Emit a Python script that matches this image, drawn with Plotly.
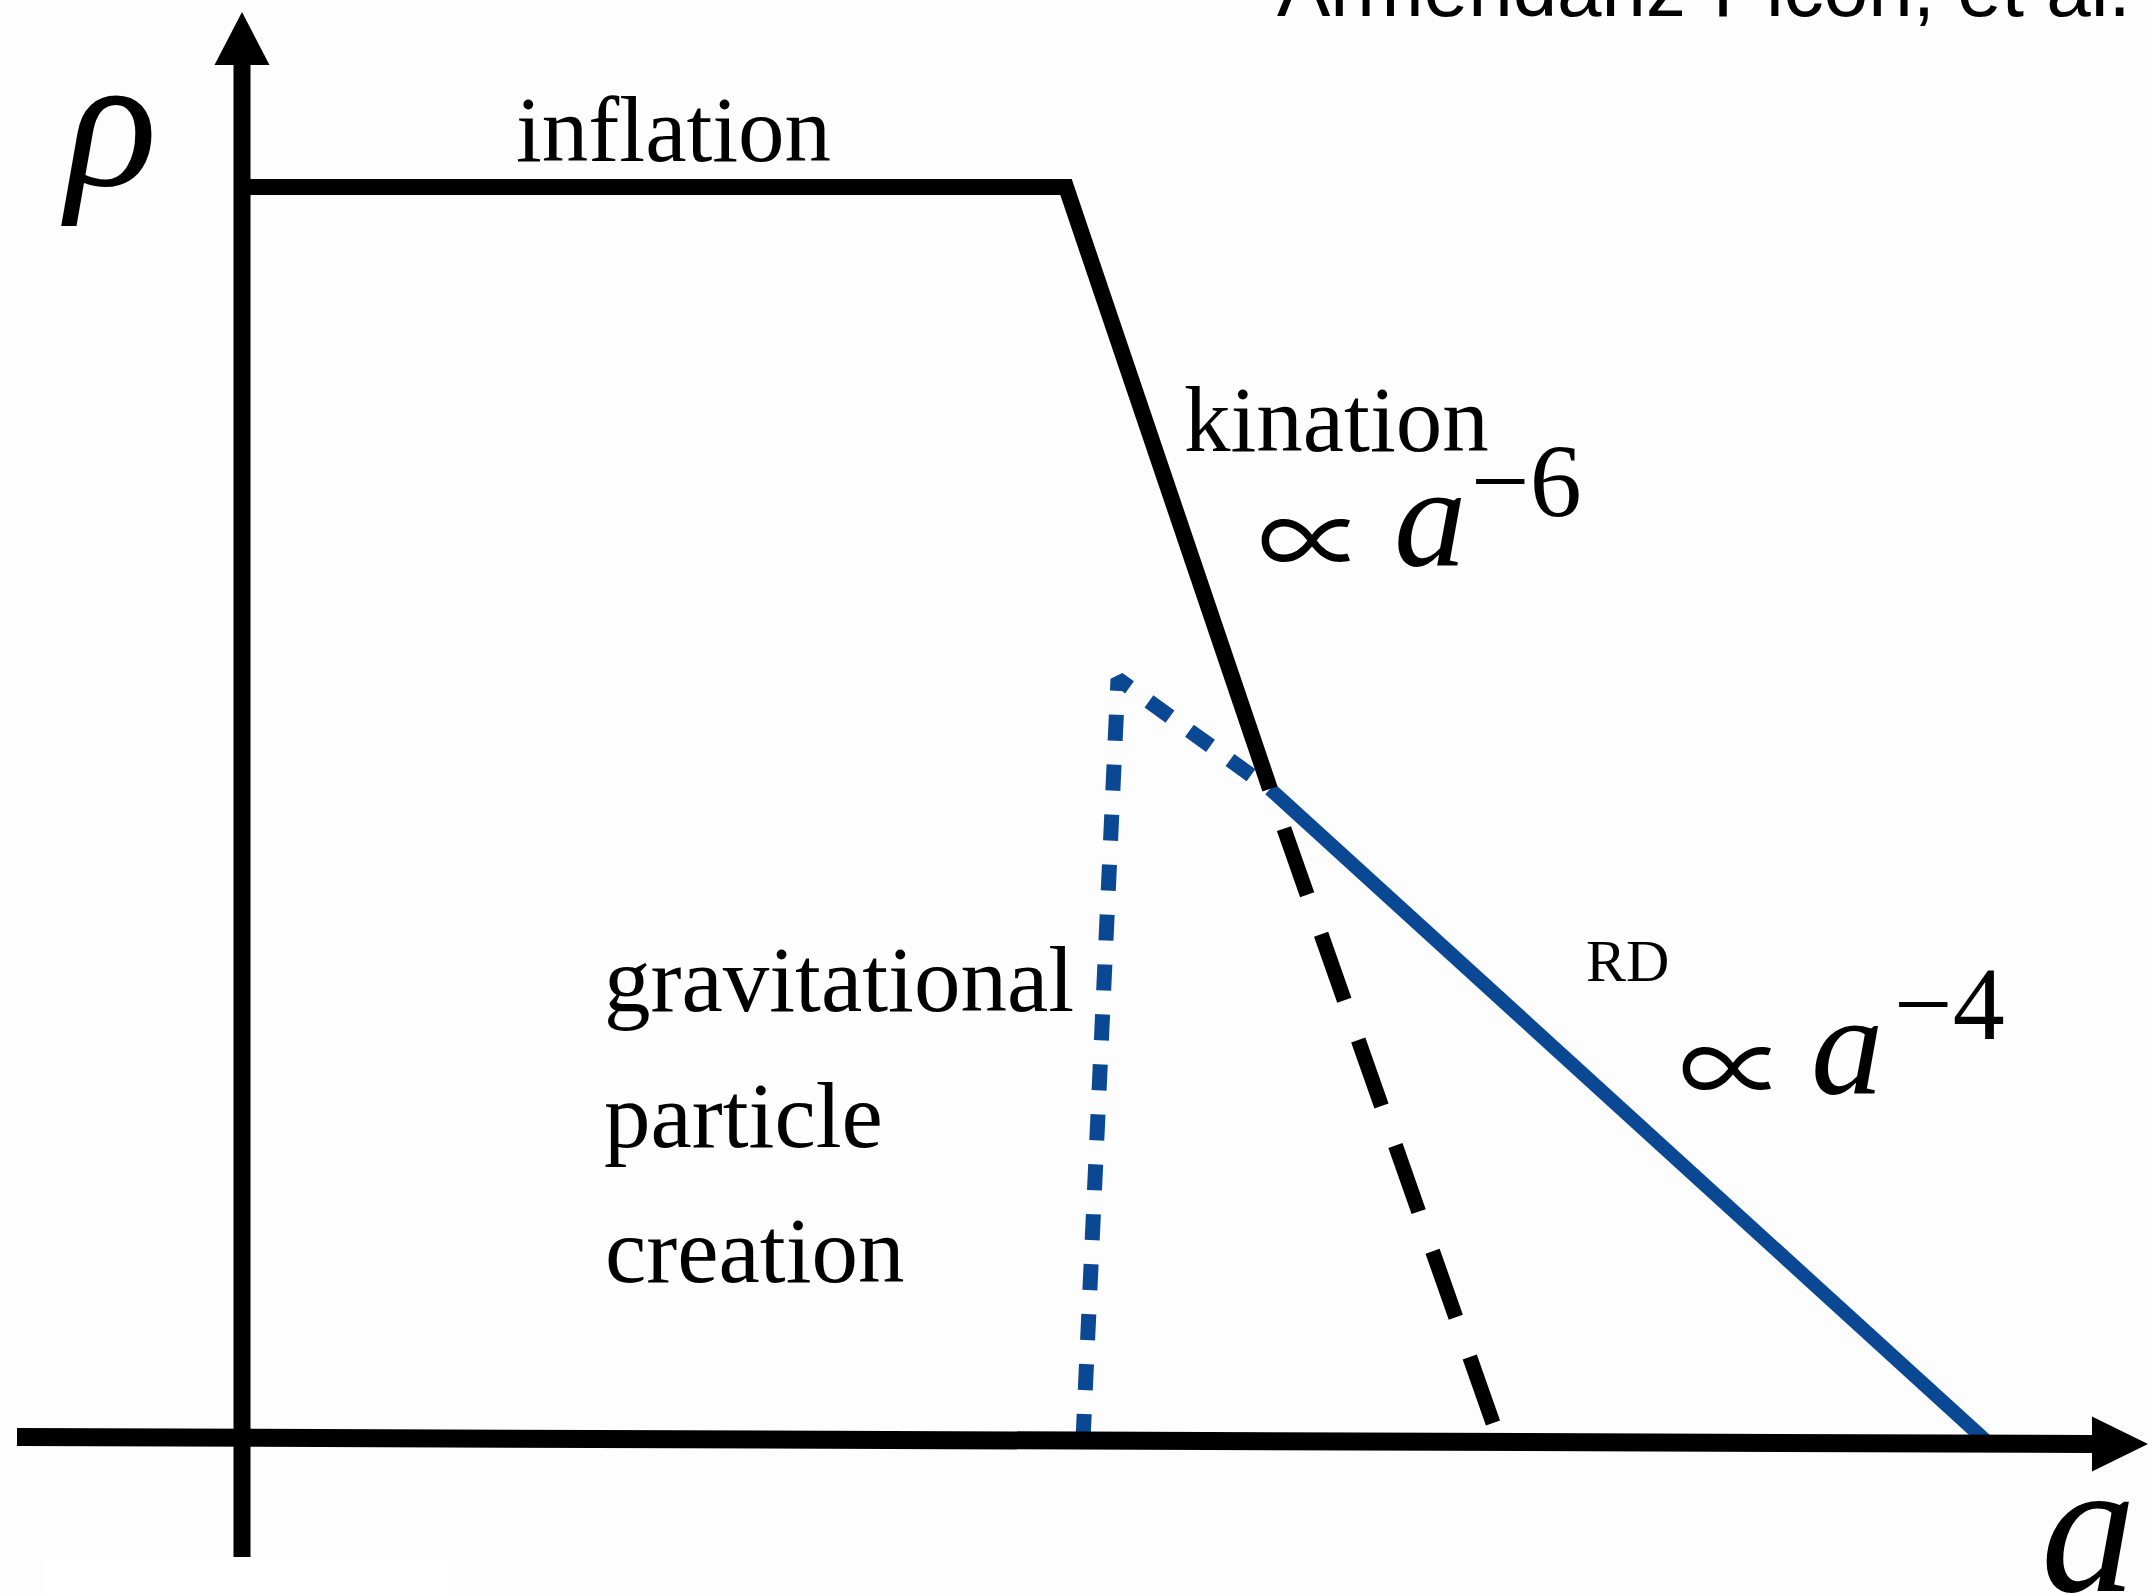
import plotly.graph_objects as go

W, H = 2152, 1594

# Schematic history of the energy density rho against the scale factor a
# (arbitrary units, origin where the two axes cross).
inflation_a = [0.0, 8.24]
inflation_rho = [12.53, 12.53]

kination_a = [8.24, 10.28]
kination_rho = [12.53, 6.51]

rd_a = [10.28, 17.43]
rd_rho = [6.51, 0.0]

kination_tail_a = [10.28, 12.51]
kination_tail_rho = [6.51, 0.17]

gpc_a = [8.41, 8.76, 10.28]
gpc_rho = [0.0, 7.61, 6.51]

# Visible window of the diagram in data units
A_RANGE = [-2.42, 19.10]
RHO_RANGE = [-1.54, 14.40]

# Axis geometry in data units
Y_AXIS_BOTTOM, Y_AXIS_TOP, Y_TIP = -1.17, 13.75, 14.28
X_AXIS_LEFT, X_AXIS_RIGHT, X_TIP = -2.25, 18.50, 19.06
X_AXIS_RHO_L, X_AXIS_RHO_R = 0.03, -0.04
HEAD_HALF = 0.275

BLUE = "#0b4893"
SERIF = "Liberation Serif"

fig = go.Figure()

# dashed continuation of kination: each dash is preceded by a gap
fig.add_trace(go.Scatter(
    x=kination_tail_a, y=kination_tail_rho, mode="lines",
    line=dict(color="black", width=15, dash="0px,42px,70px,0px"),
    hoverinfo="skip"))
fig.add_trace(go.Scatter(
    x=gpc_a, y=gpc_rho, mode="lines",
    line=dict(color=BLUE, width=15, dash="26px,24px"), hoverinfo="skip"))
fig.add_trace(go.Scatter(
    x=rd_a, y=rd_rho, mode="lines",
    line=dict(color=BLUE, width=14), hoverinfo="skip"))
fig.add_trace(go.Scatter(
    x=inflation_a + kination_a[1:], y=inflation_rho + kination_rho[1:],
    mode="lines", line=dict(color="black", width=16), hoverinfo="skip"))

shapes = [
    # blank strip along the bottom-left edge
    dict(type="rect", xref="x", yref="y", x0=-1.97, x1=2.05,
         y0=RHO_RANGE[0], y1=Y_AXIS_BOTTOM, fillcolor="white",
         line=dict(width=0), layer="below"),
    # rho axis
    dict(type="line", xref="x", yref="y", x0=0, x1=0,
         y0=Y_AXIS_BOTTOM, y1=Y_AXIS_TOP, line=dict(color="black", width=17)),
    dict(type="path", xref="x", yref="y",
         path=f"M {-HEAD_HALF},{Y_AXIS_TOP} L {HEAD_HALF},{Y_AXIS_TOP} L 0,{Y_TIP} Z",
         fillcolor="black", line=dict(width=0)),
    # a axis
    dict(type="line", xref="x", yref="y", x0=X_AXIS_LEFT, x1=X_AXIS_RIGHT,
         y0=X_AXIS_RHO_L, y1=X_AXIS_RHO_R, line=dict(color="black", width=18)),
    dict(type="path", xref="x", yref="y",
         path=(f"M {X_AXIS_RIGHT},{X_AXIS_RHO_R - HEAD_HALF} "
               f"L {X_AXIS_RIGHT},{X_AXIS_RHO_R + HEAD_HALF} "
               f"L {X_TIP},{X_AXIS_RHO_R} Z"),
         fillcolor="black", line=dict(width=0)),
]


def label(text, a, rho, size, family=SERIF, italic=False, descent=0.216):
    # (a, rho) is the left end of the text baseline
    return dict(
        x=a, y=rho, xref="x", yref="y", text=text, showarrow=False,
        xanchor="left", yanchor="bottom", xshift=-1,
        yshift=-(descent * size + 1),
        font=dict(family=family, size=size, color="black",
                  style="italic" if italic else "normal"))


PROP = "\u221d"
PROP_FONT = "Noto Sans CJK JP"

annotations = [
    label("inflation", 2.73, 12.78, 93),
    label("kination", 9.41, 9.88, 93),
    label(PROP, 10.15, 8.58, 108, family=PROP_FONT, descent=0.288),
    label("a", 11.51, 8.73, 145, italic=True),
    label("\u22126", 12.28, 9.23, 104),
    label("RD", 13.43, 4.58, 60),
    label(PROP, 14.36, 3.30, 108, family=PROP_FONT, descent=0.288),
    label("a", 15.68, 3.45, 145, italic=True),
    label("\u22124", 16.51, 4.00, 104),
    label("gravitational", 3.61, 4.28, 93),
    label("particle", 3.61, 2.92, 93),
    label("creation", 3.62, 1.57, 93),
    label("\u03c1", -1.82, 12.54, 190, italic=True),
    label("a", 17.98, -1.52, 190, italic=True),
    label("Armendariz-Picon, et al.", 10.34, 14.23, 80,
          family="Liberation Sans", descent=0.212),
]

fig.update_layout(
    width=W, height=H, autosize=False,
    margin=dict(l=0, r=0, t=0, b=0, pad=0),
    paper_bgcolor="#fdfdfd", plot_bgcolor="#fdfdfd",
    showlegend=False,
    xaxis=dict(range=A_RANGE, visible=False, fixedrange=True),
    yaxis=dict(range=RHO_RANGE, visible=False, fixedrange=True),
    shapes=shapes, annotations=annotations,
)

fig.write_html("out.html", config={"displayModeBar": False})
